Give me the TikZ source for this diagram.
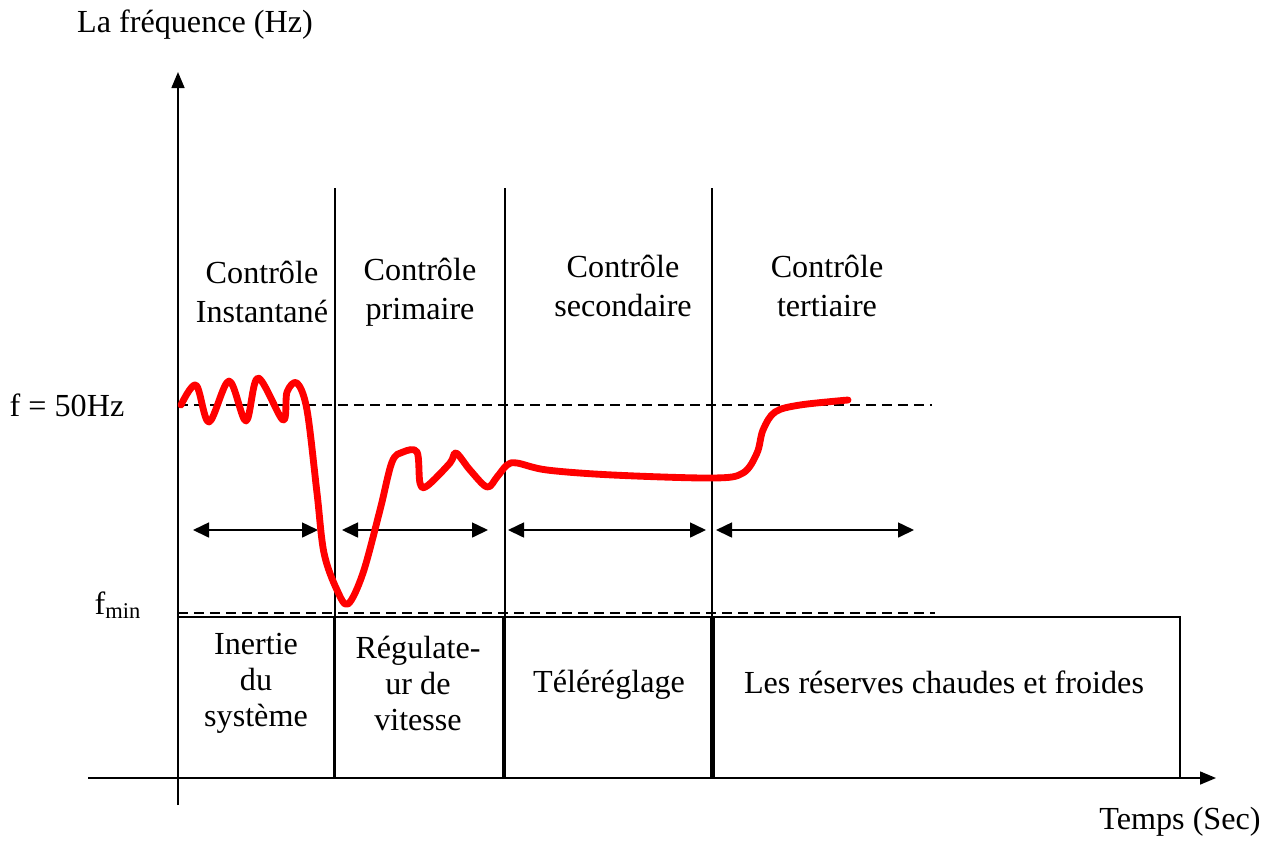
\documentclass[tikz,border=0pt]{standalone}
\usepackage{fontspec}
\setmainfont{Liberation Serif}
\usetikzlibrary{arrows.meta}

\begin{document}
\begin{tikzpicture}[x=0.02cm, y=-0.02cm, line width=0.9pt,
    lbl/.style = {align=center, inner sep=0pt, font=\fontsize{18.3}{22}\selectfont},
    boxlbl/.style = {lbl, font=\fontsize{18.3}{20.5}\selectfont},
    box/.style = {draw, rectangle, inner sep=0pt, minimum height=3.22cm},
    hdash/.style = {dash pattern=on 0.2cm off 0.12cm},
    span/.style = {{Triangle[length=0.32cm,width=0.3cm]}-{Triangle[length=0.32cm,width=0.3cm]}},
    freq/.style = {red, line width=3.9pt, line cap=round, line join=round}]
    \useasboundingbox (0,0) rectangle (1274,840);

    % axes
    \coordinate (ybot) at (178,805);
    \coordinate (ytop) at (178,72);
    \coordinate (xleft) at (88,778);
    \coordinate (xright) at (1216,778);
    \draw[-{Triangle[length=0.32cm,width=0.26cm]}] (ybot) -- (ytop);
    \draw[-{Triangle[length=0.32cm,width=0.26cm]}] (xleft) -- (xright);
    \node[lbl] (ylab) at (195,25) {La fréquence (Hz)};
    \node[lbl] (xlab) at (1180,822) {Temps (Sec)};

    % reference levels
    \node[lbl] (fnom) at (67,405) {f = 50Hz};
    \node[lbl] (fmin) at (118,605) {f\textsubscript{min}};
    \coordinate (n1) at (178,405);
    \coordinate (n2) at (932,405);
    \coordinate (m1) at (178,613);
    \coordinate (m2) at (935,613);
    \draw[hdash] (n1) -- (n2);
    \draw[hdash] (m1) -- (m2);

    % separators
    \foreach \sx in {335,505,712}
        \draw (\sx,188) -- (\sx,778);

    % control stages
    \node[lbl] (c1) at (262,292) {Contrôle\\Instantané};
    \node[lbl] (c2) at (420,292) {Contrôle\\primaire};
    \node[lbl] (c3) at (623,286) {Contrôle\\secondaire};
    \node[lbl] (c4) at (827,286) {Contrôle\\tertiaire};

    % durations
    \coordinate (a1) at (193,530); \coordinate (b1) at (318,530);
    \coordinate (a2) at (342,530); \coordinate (b2) at (488,530);
    \coordinate (a3) at (508,530); \coordinate (b3) at (706,530);
    \coordinate (a4) at (716,530); \coordinate (b4) at (914,530);
    \draw[span] (a1) -- (b1);
    \draw[span] (a2) -- (b2);
    \draw[span] (a3) -- (b3);
    \draw[span] (a4) -- (b4);

    % means
    \node[box, minimum width=3.12cm] (r1) at (256,697.5) {};
    \node[box, minimum width=3.38cm] (r2) at (418.5,697.5) {};
    \node[box, minimum width=4.12cm] (r3) at (608,697.5) {};
    \node[box, minimum width=9.32cm] (r4) at (947,697.5) {};
    \node[boxlbl] (t1) at (256,683) {Inertie\\du\\système};
    \node[boxlbl] (t2) at (418,683) {Régulate-\\ur de\\vitesse};
    \node[boxlbl] (t3) at (609,685) {Téléréglage};
    \node[boxlbl] (t4) at (944,682) {Les réserves chaudes et froides};

    % frequency response
    \draw[freq] plot[smooth, tension=0.55] coordinates {
        (181,405) (196,385) (209,422) (229,381) (246,421) (258,378)
        (283,420) (287,392) (297,383) (307,410) (317,493) (324,553)
        (337,590) (348,604) (363,573) (380,510) (392,462) (403,452)
        (417,452) (420,483) (427,486) (450,463) (456,453) (470,470)
        (487,487) (497,477) (507,465) (517,463) (547,470) (613,475)
        (713,478) (743,473) (757,453) (763,430) (775,412) (800,405) (848,400)};
\end{tikzpicture}
\end{document}
